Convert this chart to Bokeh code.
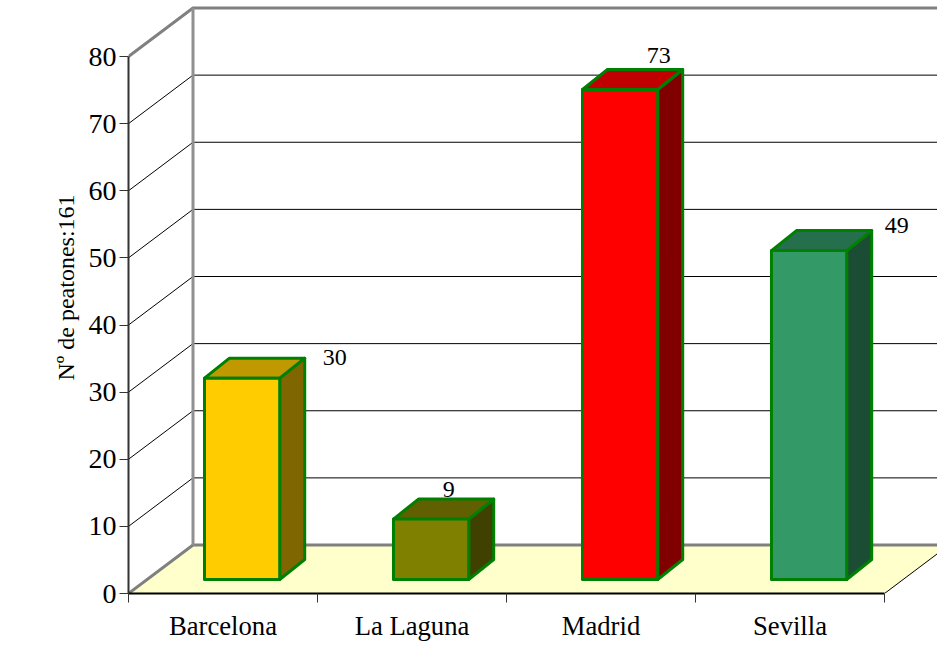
from bokeh.plotting import figure
from bokeh.models import FixedTicker, LinearAxis, Range1d, Title
from bokeh.core.properties import value
from bokeh.embed import file_html
from bokeh.resources import INLINE

categories = ["Barcelona", "La Laguna", "Madrid", "Sevilla"]
peatones = [30, 9, 73, 49]
front_colors = ["#FFCC00", "#808000", "#FF0000", "#339966"]
top_colors = ["#C09900", "#606000", "#C00000", "#266F4C"]
side_colors = ["#806600", "#404000", "#800000", "#1A4D33"]
y_ticks = [0, 10, 20, 30, 40, 50, 60, 70, 80]
label_dx = [30, -45, -24, 25]
label_dy = [-1, -10, -14, -5]
axis_title = "Nº de peatones:161"

FONT = "Liberation Serif"
PX_X = 189.0          # pixels per category
PX_Y = 6.7125         # pixels per unit of value
LEFT, BASE = 128, 593 # position of the origin on the canvas
WALL_DX, WALL_DY = 64.5 / PX_X, 48.5 / PX_Y
BAR_DX, BAR_DY = 25 / PX_X, 20 / PX_Y
BAR_V0 = 14 / PX_Y
BAR_X0, BAR_X1 = 0.402, 0.80
N = len(categories)

p = figure(width=937, height=646, output_backend="svg", toolbar_location=None,
           x_range=Range1d(0, (937 - LEFT) / PX_X),
           y_range=Range1d(0, BASE / PX_Y),
           min_border_left=LEFT, min_border_right=0, min_border_top=0,
           min_border_bottom=646 - BASE,
           background_fill_color="white", border_fill_color="white")
p.outline_line_color = None
p.grid.visible = False

# Floor
p.patch([0, WALL_DX, N + WALL_DX, N], [0, WALL_DY, WALL_DY, 0],
        fill_color="#FFFFCC", line_color=None)

# Grid on the walls
inner = [v for v in y_ticks if v not in (y_ticks[0], y_ticks[-1])]
p.multi_line([[0, WALL_DX, N + WALL_DX] for _ in inner],
             [[v, v + WALL_DY, v + WALL_DY] for v in inner],
             line_color="black", line_width=1)
# Floor's right edge
p.line([N, N + WALL_DX], [0, WALL_DY], line_color="black", line_width=1)

# Heavy wall edges
vtop = y_ticks[-1]
p.line([0, WALL_DX, N + WALL_DX], [0, WALL_DY, WALL_DY], line_color="#808080", line_width=3)
p.line([0, WALL_DX, N + WALL_DX], [vtop, vtop + WALL_DY, vtop + WALL_DY],
       line_color="#808080", line_width=3)
p.line([WALL_DX, WALL_DX], [WALL_DY, vtop + WALL_DY], line_color="#909090", line_width=3)

# Bars
front_x, front_y, top_x, top_y, side_x, side_y = [], [], [], [], [], []
for i, v in enumerate(peatones):
    a, b = i + BAR_X0, i + BAR_X1
    y0, y1 = BAR_V0, BAR_V0 + v
    front_x.append([a, b, b, a])
    front_y.append([y0, y0, y1, y1])
    top_x.append([a, b, b + BAR_DX, a + BAR_DX])
    top_y.append([y1, y1, y1 + BAR_DY, y1 + BAR_DY])
    side_x.append([b, b + BAR_DX, b + BAR_DX, b])
    side_y.append([y0, y0 + BAR_DY, y1 + BAR_DY, y1])

for xs, ys, cols in ((side_x, side_y, side_colors), (top_x, top_y, top_colors),
                     (front_x, front_y, front_colors)):
    p.patches(xs, ys, fill_color=cols, line_color="#008000", line_width=3,
              line_join="round")

# Value labels
p.text([i + BAR_X1 + BAR_DX for i in range(N)],
       [BAR_V0 + v + BAR_DY for v in peatones],
       text=[str(v) for v in peatones],
       x_offset=label_dx, y_offset=label_dy,
       text_font=value(FONT), text_font_size="24px", text_color="black",
       text_align="center", text_baseline="middle")

# Axes
ya = p.yaxis[0]
ya.ticker = FixedTicker(ticks=y_ticks)
ya.bounds = (y_ticks[0], y_ticks[-1])
ya.axis_line_color = "#333333"
ya.axis_line_width = 2
ya.major_tick_line_color = "#333333"
ya.major_tick_line_width = 1
ya.major_tick_in = 0
ya.major_tick_out = 9
ya.minor_tick_in = 0
ya.minor_tick_out = 0
ya.major_label_standoff = 3
ya.major_label_text_font = FONT
ya.major_label_text_font_size = "28px"
ya.major_label_text_color = "black"

# Empty axis that only takes up room, so that the y title sits near the page's left edge
spacer_axis = LinearAxis(ticker=FixedTicker(ticks=[]), axis_line_color=None,
                         major_tick_line_color=None, minor_tick_line_color=None,
                         major_tick_in=0, major_tick_out=44,
                         minor_tick_in=0, minor_tick_out=0)
p.add_layout(spacer_axis, "left")

p.add_layout(Title(text=axis_title, align="left", offset=213, standoff=10,
                   vertical_align="top",
                   text_font=FONT, text_font_size="24px", text_font_style="normal",
                   text_color="black"), "left")

xa = p.xaxis[0]
xa.ticker = FixedTicker(ticks=[i + 0.5 for i in range(N)], minor_ticks=list(range(N + 1)))
xa.major_label_overrides = {i + 0.5: c for i, c in enumerate(categories)}
xa.bounds = (0, N)
xa.axis_line_color = "black"
xa.axis_line_width = 2
xa.major_tick_in = 0
xa.major_tick_out = 0
xa.minor_tick_in = 0
xa.minor_tick_out = 9
xa.minor_tick_line_color = "#333333"
xa.minor_tick_line_width = 1
xa.major_label_standoff = 8
xa.major_label_text_font = FONT
xa.major_label_text_font_size = "26.67px"
xa.major_label_text_color = "black"

open("out.html", "w").write(file_html(p, INLINE))
